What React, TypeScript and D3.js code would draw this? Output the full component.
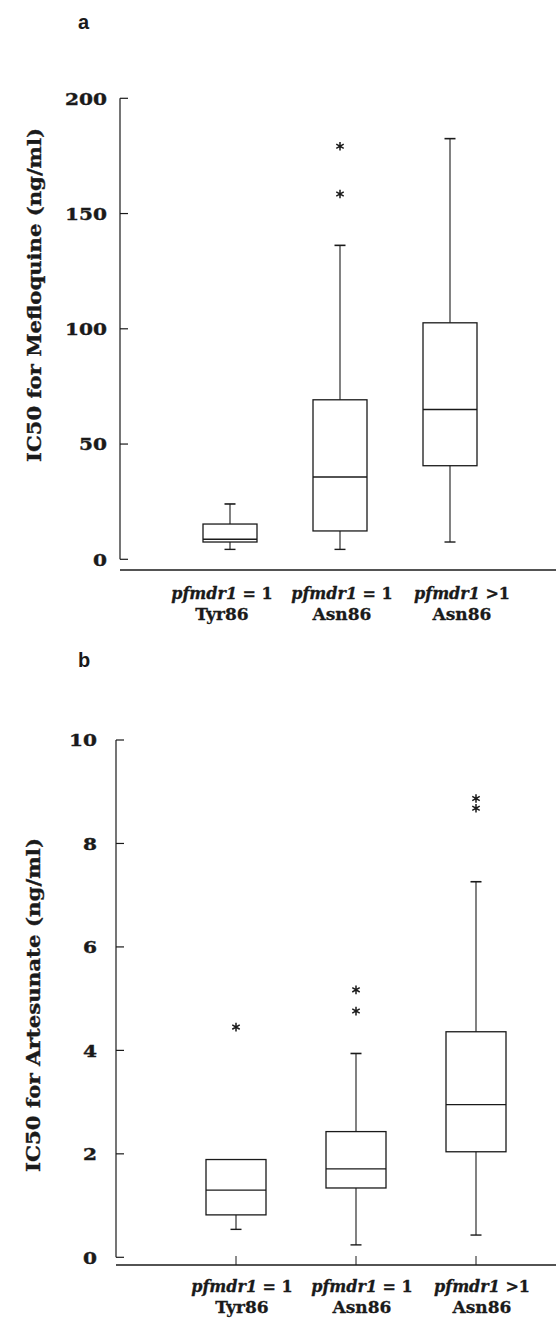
import React from "react";
import * as d3 from "d3";

// ---------- data ----------
const categoryKeys = ["tyr86_1", "asn86_1", "asn86_gt1"];
const categoryItalic = ["pfmdr1", "pfmdr1", "pfmdr1"];
const categorySuffix = [" = 1", " = 1", " >1"];
const categoryLine2 = ["Tyr86", "Asn86", "Asn86"];

// Panel a: IC50 for Mefloquine (ng/ml)
const mefTicks = [0, 50, 100, 150, 200];
const mefLow = [4.3, 4.3, 7.5];
const mefQ1 = [7.5, 12.3, 40.6];
const mefMedian = [8.7, 35.7, 65];
const mefQ3 = [15.3, 69.2, 102.6];
const mefHigh = [24, 136.2, 182.5];
const mefOutliers = [[], [158.5, 179.2], []];

// Panel b: IC50 for Artesunate (ng/ml)
const artTicks = [0, 2, 4, 6, 8, 10];
const artLow = [0.54, 0.24, 0.43];
const artQ1 = [0.82, 1.34, 2.04];
const artMedian = [1.3, 1.71, 2.95];
const artQ3 = [1.89, 2.43, 4.36];
const artHigh = [1.89, 3.94, 7.26];
const artOutliers = [[4.45], [4.76, 5.17], [8.68, 8.87]];

const INK = "#1a1a1a";
const SERIF = "'DejaVu Serif', serif";

type PanelProps = {
  letter: string;
  letterY: number;
  title: string;
  titleX: number;
  titleY: number;
  titleLen: number;
  ticks: number[];
  yMax: number;
  yBottom: number;
  yTop: number;
  axisX: number;
  xEnd: number;
  xAxisY: number;
  xAxisTicks: boolean;
  tickLabelRight: number;
  labelRange: [number, number];
  labelY1: number;
  labelY2: number;
  low: number[];
  q1: number[];
  median: number[];
  q3: number[];
  high: number[];
  outliers: number[][];
  boxWidth: number;
  capWidth: number;
};

function Panel(p: PanelProps) {
  const y = d3.scaleLinear().domain([0, p.yMax]).range([p.yBottom, p.yTop]);
  const x = d3.scalePoint<string>().domain(categoryKeys).range([p.axisX, p.xEnd]).padding(1);
  const xl = d3.scalePoint<string>().domain(categoryKeys).range(p.labelRange);
  const star = d3.symbol(d3.symbolAsterisk, 52)();

  return (
    <g>
      <text x={78} y={p.letterY} fontFamily="'Liberation Sans', Arial, sans-serif" fontWeight="bold" fontSize={20} fill={INK}>
        {p.letter}
      </text>
      {/* y axis title */}
      <text
        transform={`translate(${p.titleX},${p.titleY}) rotate(-90)`}
        textAnchor="middle"
        fontFamily={SERIF}
        fontWeight="bold"
        fontSize={19}
        textLength={p.titleLen}
        lengthAdjust="spacingAndGlyphs"
        fill={INK}
        stroke={INK}
        strokeWidth={0.35}
      >
        {p.title}
      </text>
      {/* y axis */}
      <line x1={p.axisX} x2={p.axisX} y1={y(0)} y2={y(p.yMax)} stroke={INK} strokeWidth={1.2} />
      {p.ticks.map((t) => (
        <g key={t}>
          <line x1={p.axisX} x2={p.axisX + 8} y1={y(t)} y2={y(t)} stroke={INK} strokeWidth={1.2} />
          <text
            transform={`translate(${p.tickLabelRight},${y(t)}) scale(1.15,1)`}
            textAnchor="end"
            dy="0.36em"
            fontFamily={SERIF}
            fontWeight="bold"
            fontSize={17.5}
            fill={INK}
            stroke={INK}
            strokeWidth={0.4}
          >
            {t}
          </text>
        </g>
      ))}
      {/* x axis */}
      <line x1={p.axisX} x2={556} y1={p.xAxisY} y2={p.xAxisY} stroke={INK} strokeWidth={1.4} />
      {p.xAxisTicks &&
        categoryKeys.map((k) => (
          <line key={k} x1={x(k)} x2={x(k)} y1={p.xAxisY} y2={p.xAxisY - 9} stroke={INK} strokeWidth={1} />
        ))}
      {/* boxes */}
      {categoryKeys.map((k, i) => {
        const cx = x(k) as number;
        const bw = p.boxWidth;
        return (
          <g key={k} stroke={INK} fill="none">
            <line x1={cx} x2={cx} y1={y(p.q3[i])} y2={y(p.high[i])} strokeWidth={1.1} />
            <line x1={cx} x2={cx} y1={y(p.q1[i])} y2={y(p.low[i])} strokeWidth={1.1} />
            {p.high[i] > p.q3[i] && (
              <line x1={cx - p.capWidth / 2} x2={cx + p.capWidth / 2} y1={y(p.high[i])} y2={y(p.high[i])} strokeWidth={1.6} />
            )}
            <line x1={cx - p.capWidth / 2} x2={cx + p.capWidth / 2} y1={y(p.low[i])} y2={y(p.low[i])} strokeWidth={1.4} />
            <rect x={cx - bw / 2} y={y(p.q3[i])} width={bw} height={y(p.q1[i]) - y(p.q3[i])} strokeWidth={1.3} />
            <line x1={cx - bw / 2} x2={cx + bw / 2} y1={y(p.median[i])} y2={y(p.median[i])} strokeWidth={1.3} />
            {p.outliers[i].map((o, j) => (
              <path key={j} d={star as string} transform={`translate(${cx},${y(o)})`} strokeWidth={1.5} />
            ))}
          </g>
        );
      })}
      {/* category labels */}
      {categoryKeys.map((k, i) => (
        <g key={k} fontFamily={SERIF} fontWeight="bold" fill={INK} textAnchor="middle" stroke={INK} strokeWidth={0.3}>
          <text x={xl(k)} y={p.labelY1} fontSize={16}>
            <tspan fontStyle="italic">{categoryItalic[i]}</tspan>
            <tspan>{categorySuffix[i]}</tspan>
          </text>
          <text x={xl(k)} y={p.labelY2} fontSize={17}>
            {categoryLine2[i]}
          </text>
        </g>
      ))}
    </g>
  );
}

export default function App() {
  return (
    <svg
      width={556}
      height={1324}
      style={{ position: "absolute", left: 0, top: 0, background: "#fff" }}
    >
      <rect width={556} height={1324} fill="#fff" />
      <Panel
        letter="a"
        letterY={29}
        title="IC50 for Mefloquine (ng/ml)"
        titleX={41}
        titleY={295}
        titleLen={334}
        ticks={mefTicks}
        yMax={200}
        yBottom={559.3}
        yTop={98.3}
        axisX={120}
        xEnd={560}
        xAxisY={570}
        xAxisTicks={false}
        tickLabelRight={107}
        labelRange={[222, 462]}
        labelY1={599}
        labelY2={620}
        low={mefLow}
        q1={mefQ1}
        median={mefMedian}
        q3={mefQ3}
        high={mefHigh}
        outliers={mefOutliers}
        boxWidth={54}
        capWidth={11}
      />
      <Panel
        letter="b"
        letterY={667}
        title="IC50 for Artesunate (ng/ml)"
        titleX={40}
        titleY={1005}
        titleLen={334}
        ticks={artTicks}
        yMax={10}
        yBottom={1257.3}
        yTop={740}
        axisX={116}
        xEnd={596}
        xAxisY={1265}
        xAxisTicks={true}
        tickLabelRight={97}
        labelRange={[242, 482]}
        labelY1={1292}
        labelY2={1313}
        low={artLow}
        q1={artQ1}
        median={artMedian}
        q3={artQ3}
        high={artHigh}
        outliers={artOutliers}
        boxWidth={60}
        capWidth={11}
      />
    </svg>
  );
}
